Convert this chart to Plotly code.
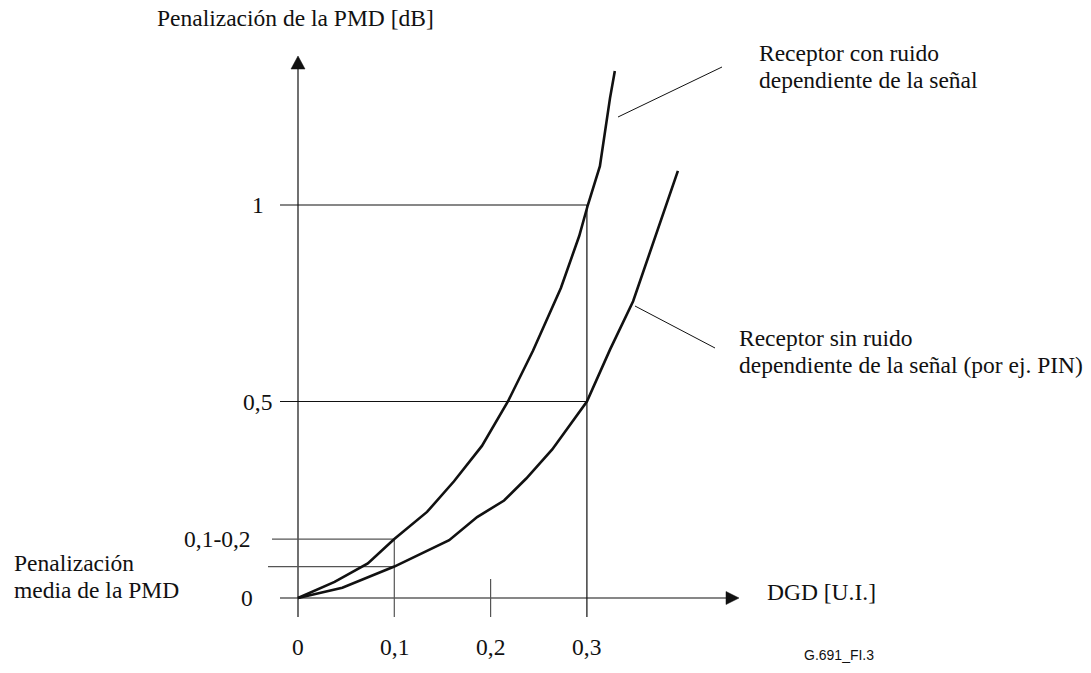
import plotly.graph_objects as go

# ---------------- data (schematic values) ----------------
dgd_signal = [0.0, 0.038, 0.0725, 0.100, 0.134, 0.162, 0.191, 0.218, 0.244, 0.273, 0.292, 0.301, 0.3135, 0.324, 0.329]
pen_signal = [0.0, 0.041, 0.088, 0.150, 0.219, 0.297, 0.387, 0.500, 0.629, 0.789, 0.921, 1.000, 1.099, 1.272, 1.341]

dgd_pin = [0.0, 0.046, 0.100, 0.157, 0.186, 0.214, 0.237, 0.264, 0.300, 0.324, 0.348, 0.372, 0.3945]
pen_pin = [0.0, 0.026, 0.080, 0.147, 0.206, 0.248, 0.304, 0.378, 0.500, 0.632, 0.755, 0.924, 1.087]

x_tick_vals = [0.0, 0.1, 0.2, 0.3]
x_tick_text = ["0", "0,1", "0,2", "0,3"]
y_tick_vals = [0.0, 0.15, 0.5, 1.0]
y_tick_text = ["0", "0,1-0,2", "0,5", "1"]
mean_penalty = 0.08
range_penalty = 0.15

# ---------------- layout helpers (pixel -> data for layout positions) ----------
W, H = 1091, 673
X0PX, Y0PX = 298.0, 598.0
SX, SY = 963.0, 393.0


def px2x(px):
    return (px - X0PX) / SX


def py2y(py):
    return (Y0PX - py) / SY


BLACK = "#111111"
GREY = "#555555"
SERIF = "Liberation Serif, Times New Roman, serif"
FS = 23.5

fig = go.Figure()

fig.add_trace(go.Scatter(x=dgd_signal, y=pen_signal, mode="lines",
                         line=dict(color=BLACK, width=2.6), hoverinfo="skip", showlegend=False))
fig.add_trace(go.Scatter(x=dgd_pin, y=pen_pin, mode="lines",
                         line=dict(color=BLACK, width=2.6), hoverinfo="skip", showlegend=False))

shapes = []


def seg(x0, y0, x1, y1, color=BLACK, width=1.2):
    shapes.append(dict(type="line", xref="x", yref="y", x0=x0, y0=y0, x1=x1, y1=y1,
                       line=dict(color=color, width=width), layer="below"))


# axes
seg(0, py2y(617), 0, py2y(68))
seg(px2x(280), 0, px2x(727), 0)
# arrow heads
shapes.append(dict(type="path", xref="x", yref="y",
                   path=f"M {px2x(298)},{py2y(56)} L {px2x(291)},{py2y(69)} L {px2x(305)},{py2y(69)} Z",
                   fillcolor=BLACK, line=dict(color=BLACK, width=0.5)))
shapes.append(dict(type="path", xref="x", yref="y",
                   path=f"M {px2x(739)},{py2y(598)} L {px2x(726)},{py2y(591.5)} L {px2x(726)},{py2y(604.5)} Z",
                   fillcolor=BLACK, line=dict(color=BLACK, width=0.5)))

# reference lines
seg(px2x(280), y_tick_vals[3], x_tick_vals[3], y_tick_vals[3])
seg(px2x(280), y_tick_vals[2], x_tick_vals[3], y_tick_vals[2])
seg(px2x(272), range_penalty, x_tick_vals[1], range_penalty, color=GREY)
seg(px2x(268), mean_penalty, x_tick_vals[1], mean_penalty, color=GREY)
seg(x_tick_vals[1], range_penalty, x_tick_vals[1], py2y(617), color=GREY)
seg(x_tick_vals[2], py2y(579), x_tick_vals[2], py2y(617), color=GREY)
seg(x_tick_vals[3], y_tick_vals[3], x_tick_vals[3], py2y(617))

# leader lines
seg(px2x(618), py2y(117), px2x(722), py2y(67), width=1)
seg(px2x(635), py2y(306), px2x(715), py2y(348), width=1)

annotations = []


def txt(text, px, py, xanchor="left", size=FS, family=SERIF):
    annotations.append(dict(text=text, x=px2x(px), y=py2y(py), xref="x", yref="y",
                            xanchor=xanchor, yanchor="middle", showarrow=False,
                            font=dict(family=family, size=size, color=BLACK)))


# x tick labels
for v, t in zip(x_tick_vals, x_tick_text):
    annotations.append(dict(text=t, x=v, y=py2y(647), xref="x", yref="y",
                            xanchor="center", yanchor="middle", showarrow=False,
                            font=dict(family=SERIF, size=FS, color=BLACK)))
# y tick labels
y_label_px = [247, 253, 257, 258]
y_label_anchor = ["center", "right", "center", "center"]
for v, t, p, a in zip(y_tick_vals, y_tick_text, y_label_px, y_label_anchor):
    annotations.append(dict(text=t, x=px2x(p), y=v, xref="x", yref="y",
                            xanchor=a, yanchor="middle", showarrow=False,
                            font=dict(family=SERIF, size=FS, color=BLACK)))

txt("Penalización de la PMD [dB]", 155, 18)
txt("Receptor con ruido", 757, 53)
txt("dependiente de la señal", 757, 80)
txt("Receptor sin ruido", 737, 338)
txt("dependiente de la señal (por ej. PIN)", 737, 365)
txt("DGD [U.I.]", 765, 592)
txt("Penalización", 12, 563)
txt("media de la PMD", 12, 590)
txt("G.691_FI.3", 802, 655, size=14, family="Liberation Sans, Arial, sans-serif")

fig.update_layout(
    width=W, height=H,
    margin=dict(l=0, r=0, t=0, b=0),
    paper_bgcolor="white", plot_bgcolor="white",
    shapes=shapes, annotations=annotations,
    xaxis=dict(range=[px2x(0), px2x(W)], visible=False, fixedrange=True),
    yaxis=dict(range=[py2y(H), py2y(0)], visible=False, fixedrange=True),
    showlegend=False,
)

fig.write_html(
    "out.html",
    config={"displayModeBar": False},
    post_script="document.body.style.margin='0';document.body.style.overflow='hidden';",
)
